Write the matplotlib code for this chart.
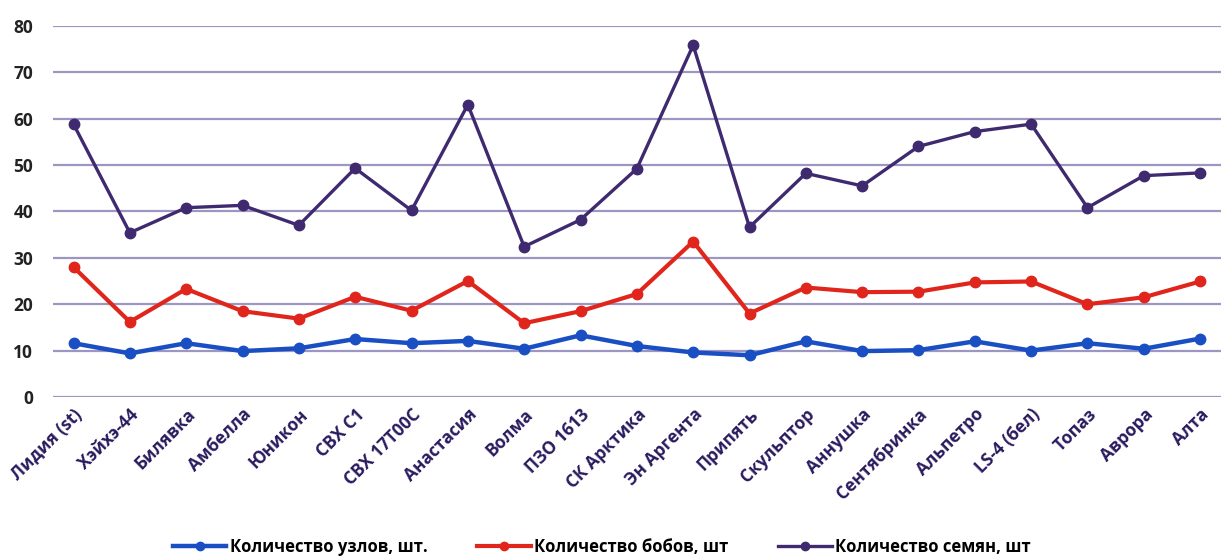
import numpy as np
from matplotlib import pyplot as plt

varieties = ["Лидия (st)", "Хэйхэ-44", "Билявка", "Амбелла", "Юникон", "СВХ С1",
             "СВХ 17Т00С", "Анастасия", "Волма", "ПЗО 1613", "СК Арктика",
             "Эн Аргента", "Припять", "Скульптор", "Аннушка", "Сентябринка",
             "Альпетро", "LS-4 (бел)", "Топаз", "Аврора", "Алта"]
nodes = [11.6, 9.4, 11.6, 9.9, 10.5, 12.5, 11.6, 12.1, 10.4, 13.3, 11.0,
         9.6, 9.0, 12.0, 9.9, 10.1, 12.0, 10.0, 11.6, 10.4, 12.6]
beans = [28.0, 16.2, 23.3, 18.5, 16.9, 21.6, 18.6, 25.0, 15.9, 18.5, 22.2,
         33.5, 18.0, 23.6, 22.6, 22.7, 24.7, 24.9, 20.0, 21.5, 24.9]
seeds = [58.8, 35.4, 40.8, 41.3, 37.0, 49.3, 40.2, 63.0, 32.4, 38.2, 49.2,
         75.8, 36.6, 48.2, 45.5, 54.0, 57.2, 58.8, 40.8, 47.7, 48.3]
labels = ["Количество узлов, шт.", "Количество бобов, шт", "Количество семян, шт"]
colors = ["#1a4fc4", "#e0261c", "#3f2a70"]

plt.rcParams["font.family"] = ["Open Sans", "DejaVu Sans"]
plt.rcParams["font.weight"] = "bold"

fig = plt.figure(figsize=(12.21, 5.6), dpi=100)
ax = fig.add_axes([0.043, 0.291, 0.957, 0.663])

x = np.arange(len(varieties))
for vals, lab, col, lw in zip([nodes, beans, seeds], labels, colors, [3.2, 3.0, 2.4]):
    ax.plot(x, vals, color=col, lw=lw, marker="o", markersize=7.5, label=lab,
            solid_joinstyle="round")

ax.set_ylim(0, 80)
ax.set_xlim(-0.373, 20.37)
ax.set_yticks(range(0, 81, 10))
ax.yaxis.grid(True, color="#9d95c2", lw=1.6)
ax.set_axisbelow(True)
for s in ax.spines.values():
    s.set_visible(False)
ax.tick_params(length=0, labelsize=12.5, pad=14)
ax.tick_params(axis="x", pad=6)
ax.set_xticks(x)
ax.set_xticklabels(varieties, rotation=45, ha="right", rotation_mode="anchor",
                   fontsize=12.5, color="#2a1a5e")
for t in ax.get_yticklabels():
    t.set_color("#222222")

ax.legend(loc="upper center", bbox_to_anchor=(0.47, -0.34), ncol=3,
          frameon=False, fontsize=12, handlelength=3.2, columnspacing=3.0,
          handletextpad=0.2, markerscale=0.8)

fig.savefig("out.png", dpi=100)
